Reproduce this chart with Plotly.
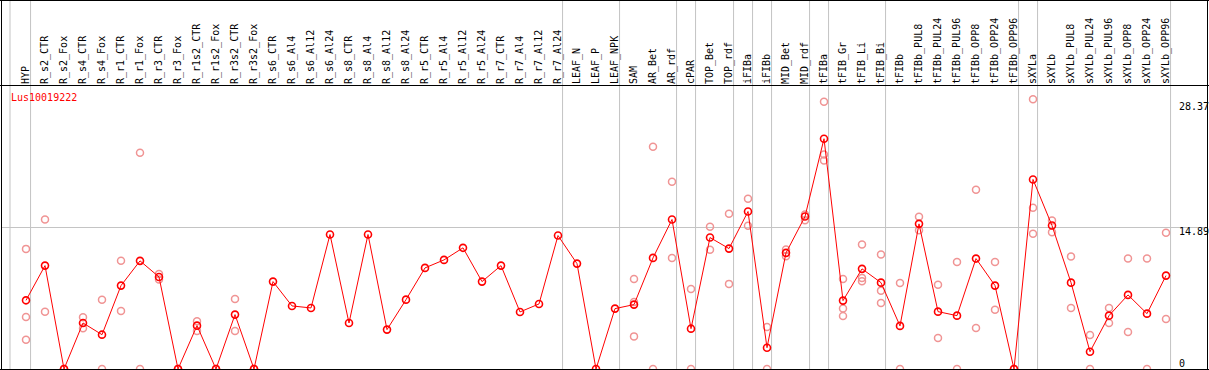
import plotly.graph_objects as go

# ---------------- data ----------------
gene = "Lus10019222"

categories = [
    "HYP", "R_s2_CTR", "R_s2_Fox", "R_s4_CTR", "R_s4_Fox", "R_r1_CTR", "R_r1_Fox",
    "R_r3_CTR", "R_r3_Fox", "R_r1s2_CTR", "R_r1s2_Fox", "R_r3s2_CTR", "R_r3s2_Fox",
    "R_s6_CTR", "R_s6_Al4", "R_s6_Al12", "R_s6_Al24", "R_s8_CTR", "R_s8_Al4",
    "R_s8_Al12", "R_s8_Al24", "R_r5_CTR", "R_r5_Al4", "R_r5_Al12", "R_r5_Al24",
    "R_r7_CTR", "R_r7_Al4", "R_r7_Al12", "R_r7_Al24", "LEAF_N", "LEAF_P", "LEAF_NPK",
    "SAM", "AR_Bet", "AR_rdf", "cPAR", "TOP_Bet", "TOP_rdf", "iFIBa", "iFIBb",
    "MID_Bet", "MID_rdf", "tFIBa", "tFIB_Gr", "tFIB_Li", "tFIB_Bi", "tFIBb",
    "tFIBb_PUL8", "tFIBb_PUL24", "tFIBb_PUL96", "tFIBb_OPP8", "tFIBb_OPP24",
    "tFIBb_OPP96", "sXYLa", "sXYLb", "sXYLb_PUL8", "sXYLb_PUL24", "sXYLb_PUL96",
    "sXYLb_OPP8", "sXYLb_OPP24", "sXYLb_OPP96",
]

mean_values = [
    7.22, 10.87, 0, 4.84, 3.61, 8.77, 11.37,
    9.68, 0, 4.56, 0, 5.72, 0,
    9.19, 6.63, 6.42, 14.14, 4.84, 14.14,
    4.14, 7.29, 10.63, 11.47, 12.74, 9.19,
    10.87, 6.00, 6.84, 14.03, 11.08, 0, 6.35,
    6.77, 11.68, 15.72, 4.24, 13.82, 12.66, 16.56, 2.24,
    12.21, 16.03, 24.21, 7.19, 10.53, 9.08, 4.53,
    15.26, 6.03, 5.61, 11.61, 8.77,
    0, 19.93, 15.08, 9.08, 1.82, 5.61,
    7.79, 5.82, 9.82,
]

replicate_values = [
    [12.63, 5.47, 3.08], [15.72, 6.03], [0, 0], [5.44, 4.28], [7.29, 0], [11.37, 6.10], [22.74, 0],
    [10.00, 9.40], [0, 0], [5.01, 4.00], [0, 0], [7.37, 4.00], [0, 0],
    [], [], [], [], [], [],
    [], [], [], [], [], [],
    [], [], [], [], [], [], [],
    [9.47, 7.05, 3.43], [23.37, 0], [19.68, 11.68], [8.42, 0], [14.95, 12.53], [16.32, 8.95],
    [17.89, 15.05], [4.42, 0],
    [12.56, 11.85], [16.24, 15.64], [28.10, 22.56, 21.93], [9.47, 6.35, 5.58],
    [13.08, 9.58, 9.22], [12.03, 8.24, 6.95], [9.05, 0],
    [16.00, 14.59], [8.87, 3.26], [11.26, 0], [18.84, 4.32], [11.26, 6.24],
    [0, 0], [28.37, 16.95, 14.21], [15.61, 14.38], [11.82, 6.42], [3.58, 0], [6.42, 4.84],
    [11.61, 3.89], [11.61, 0], [14.32, 5.26],
]

group_ends = ["HYP", "R_r7_Al24", "LEAF_NPK", "AR_rdf", "cPAR", "TOP_rdf", "iFIBa", "iFIBb",
              "MID_rdf", "tFIBa", "tFIB_Bi", "tFIBb_OPP96", "sXYLa", "sXYLb_OPP96"]

y_tick_labels = ["28.37", "14.89", "0"]
y_grid_value = 14.89

# ---------------- layout geometry ----------------
W, H = 1209, 370
ML, MR, MT, MB = 2, 1, 85, 1
PW, PH = W - ML - MR, H - MT - MB
X_FIRST, X_STEP = 26, 19          # pixel of first category, spacing
X_MIN = (ML - X_FIRST) / X_STEP
X_MAX = (W - MR - X_FIRST) / X_STEP
Y_MAX = 29.86

def px(xabs):
    return (xabs - ML) / PW

def py(yabs):
    return (H - MB - yabs) / PH

def idx_to_paper(v):
    return (v - X_MIN) / (X_MAX - X_MIN)

RED = "#ff0000"
PINK = "#f09494"
GRAY = "#c4c4c4"
FONT = "DejaVu Sans Mono"

fig = go.Figure()

rx, ry = [], []
for c, vals in zip(categories, replicate_values):
    for v in vals:
        rx.append(c)
        ry.append(v)

fig.add_trace(go.Scatter(
    x=rx, y=ry, mode="markers",
    marker=dict(symbol="circle-open", size=7, color=PINK, line=dict(width=1.5, color=PINK)),
    hoverinfo="skip", showlegend=False,
))

fig.add_trace(go.Scatter(
    x=categories, y=mean_values, mode="lines+markers",
    line=dict(color=RED, width=1),
    marker=dict(symbol="circle-open", size=7, color=RED, line=dict(width=1.6, color=RED)),
    showlegend=False,
))

shapes = []
# group separators (full height)
sep_positions = [-16 / 19] + [categories.index(c) + 0.24 for c in group_ends]
for s in sep_positions:
    xp = idx_to_paper(s)
    shapes.append(dict(type="line", xref="paper", yref="paper", x0=xp, x1=xp,
                       y0=py(H), y1=py(0), line=dict(color=GRAY, width=1), layer="below"))

# black frame
for (x0, y0, x1, y1) in [
    (0, 0.5, W, 0.5),
    (0, 85.5, W, 85.5),
    (0, 369.5, W, 369.5),
    (1.5, 0, 1.5, H),
    (1207.5, 0, 1207.5, H),
]:
    shapes.append(dict(type="line", xref="paper", yref="paper",
                       x0=px(x0), x1=px(x1), y0=py(y0), y1=py(y1),
                       line=dict(color="black", width=1), layer="above"))

annotations = [
    dict(text=gene, xref="paper", yref="paper", x=px(9), y=py(97), xanchor="left",
         yanchor="middle", showarrow=False, font=dict(family=FONT, size=10, color=RED)),
]
for lab, ycen in zip(y_tick_labels, [106.7, 231.7, 363]):
    annotations.append(dict(text=lab, xref="paper", yref="paper", x=px(1177), y=py(ycen),
                            xanchor="left", yanchor="middle", showarrow=False,
                            font=dict(family=FONT, size=10, color="black")))

fig.update_layout(
    width=W, height=H,
    margin=dict(l=ML, r=MR, t=MT, b=MB, pad=0),
    paper_bgcolor="white", plot_bgcolor="white",
    shapes=shapes, annotations=annotations,
    hovermode=False,
    xaxis=dict(
        type="category", side="top", range=[X_MIN, X_MAX],
        tickangle=-90, ticks="", showgrid=False, zeroline=False, showline=False,
        tickfont=dict(family=FONT, size=10, color="black"),
        categoryorder="array", categoryarray=categories,
    ),
    yaxis=dict(
        range=[0, Y_MAX], tickvals=[y_grid_value], showticklabels=False, ticks="",
        showgrid=True, gridcolor=GRAY, gridwidth=1, zeroline=False, showline=False,
    ),
)

fig.write_html(
    "out.html",
    config={"displayModeBar": False},
    post_script="document.body.style.margin='0px';document.body.style.overflow='hidden';",
)
